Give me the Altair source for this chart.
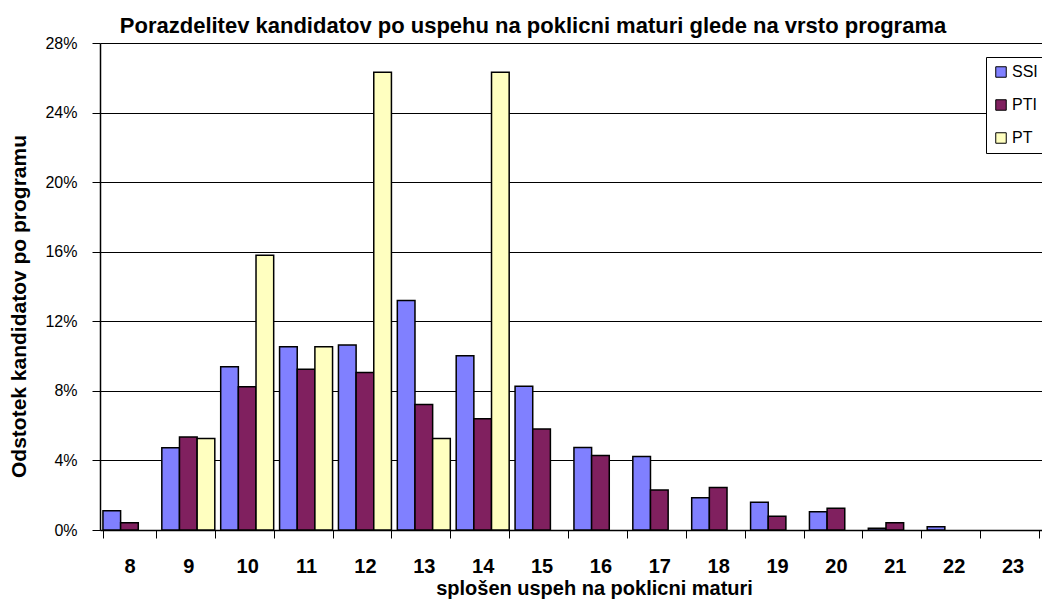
import altair as alt
import pandas as pd

categories = ["8", "9", "10", "11", "12", "13", "14", "15", "16", "17", "18", "19", "20", "21", "22", "23"]
series_names = ["SSI", "PTI", "PT"]
ssi = [1.11, 4.73, 9.39, 10.54, 10.64, 13.19, 10.02, 8.26, 4.75, 4.22, 1.86, 1.59, 1.05, 0.10, 0.19, None]
pti = [0.42, 5.35, 8.24, 9.24, 9.05, 7.22, 6.40, 5.81, 4.29, 2.30, 2.45, 0.79, 1.25, 0.42, None, None]
pt = [None, 5.26, 15.79, 10.53, 26.32, 5.26, 26.32, None, None, None, None, None, None, None, None, None]
colors = ["#8080FF", "#80205F", "#FFFFC0"]
y_ticks = [0, 4, 8, 12, 16, 20, 24, 28]

rows = []
for name, vals in zip(series_names, [ssi, pti, pt]):
    for c, v in zip(categories, vals):
        if v is not None:
            rows.append({"cat": c, "series": name, "value": v})
df = pd.DataFrame(rows)

FONT = "Liberation Sans"

chart = alt.Chart(df).mark_bar(stroke="black", strokeWidth=1.5).encode(
    x=alt.X("cat:N", sort=categories,
            scale=alt.Scale(domain=categories, paddingInner=0.1, paddingOuter=0.05),
            axis=alt.Axis(title="splošen uspeh na poklicni maturi", labelAngle=0,
                          tickBand="extent", tickSize=8, tickColor="black", tickWidth=1,
                          domainColor="black", domainWidth=1.5,
                          labelFont=FONT, labelFontSize=20, labelFontWeight="bold", labelColor="black",
                          labelPadding=28, labelBaseline="middle",
                          titleFont=FONT, titleFontSize=20, titleFontWeight="bold", titleColor="black",
                          titleX=494, titleY=58, titleBaseline="middle")),
    xOffset=alt.XOffset("series:N", sort=series_names, scale=alt.Scale(domain=series_names, paddingInner=0, paddingOuter=0)),
    y=alt.Y("value:Q", scale=alt.Scale(domain=[0, 28], nice=False),
            axis=alt.Axis(title="Odstotek kandidatov po programu", values=y_ticks,
                          labelExpr="datum.value + '%'",
                          grid=True, gridColor="black", gridWidth=1, gridOpacity=1,
                          tickSize=8, tickColor="black", domainColor="black", domainWidth=1.5,
                          labelFont=FONT, labelFontSize=16, labelColor="black", labelPadding=15,
                          titleFont=FONT, titleFontSize=21, titleFontWeight="bold", titleColor="black",
                          titleX=-81, titleY=263, titleAngle=270, titleAlign="center", titleBaseline="middle")),
    color=alt.Color("series:N", sort=series_names,
                    scale=alt.Scale(domain=series_names, range=colors),
                    legend=alt.Legend(title=None, orient="none", legendX=886, legendY=14,
                                      fillColor="white", strokeColor="black", padding=7,
                                      symbolType="square", symbolSize=110, symbolStrokeColor="black",
                                      symbolStrokeWidth=1, labelFont=FONT, labelFontSize=16,
                                      labelColor="black", rowPadding=17, labelOffset=3)),
).properties(
    width=942, height=487,
    title=alt.TitleParams("Porazdelitev kandidatov po uspehu na poklicni maturi glede na vrsto programa",
                          font=FONT, fontSize=22, fontWeight="bold", color="black",
                          anchor="middle", dx=-38, offset=-3),
    padding={"left": 92, "top": 35, "right": 0, "bottom": 74},
    autosize="none",
).configure_view(stroke=None).configure(background="white")

chart.save("out.html", embed_options={"renderer": "svg", "actions": False})
